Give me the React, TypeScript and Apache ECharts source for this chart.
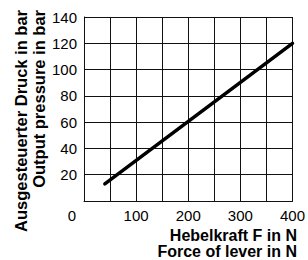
import React, { useEffect, useRef } from "react";
import * as echarts from "echarts";

const forceN = [40, 400];
const pressureBar = [13, 120];
const xTicks = [0, 100, 200, 300, 400];
const yTitle = ["Ausgesteuerter Druck in bar", "Output pressure in bar"];
const xTitle = ["Hebelkraft F in N", "Force of lever in N"];

export default function App() {
  const ref = useRef<HTMLDivElement>(null);
  useEffect(() => {
    const chart = echarts.init(ref.current!, null, { renderer: "svg" });
    const font = "'Liberation Sans', Arial, sans-serif";
    chart.setOption({
      animation: false,
      grid: { left: 84, top: 17, right: 13, bottom: 59 },
      xAxis: {
        type: "value",
        min: 0,
        max: 400,
        interval: 50,
        axisLine: { show: true, lineStyle: { color: "#111", width: 1 } },
        axisTick: { show: false },
        splitLine: { show: true, lineStyle: { color: "#111", width: 1 } },
        axisLabel: {
          color: "#000",
          fontFamily: font,
          fontSize: 15,
          margin: 7,
          formatter: (v: number) =>
            xTicks.includes(v) ? (v === 0 ? "{z|0}" : String(v)) : "",
          rich: { z: { fontSize: 15, fontFamily: font, color: "#000", padding: [0, 24, 0, 0] } },
        },
      },
      yAxis: {
        type: "value",
        min: 0,
        max: 140,
        interval: 20,
        axisLine: { show: true, lineStyle: { color: "#111", width: 1 } },
        axisTick: { show: false },
        splitLine: { show: true, lineStyle: { color: "#111", width: 1 } },
        axisLabel: {
          color: "#000",
          fontFamily: font,
          fontSize: 15,
          margin: 7,
          formatter: (v: number) => (v === 0 ? "" : String(v)),
        },
      },
      series: [
        {
          type: "line",
          data: forceN.map((x, i) => [x, pressureBar[i]]),
          symbol: "none",
          lineStyle: { color: "#000", width: 3.5, cap: "round" },
        },
      ],
      graphic: [
        {
          type: "text",
          x: 297,
          y: 227,
          style: {
            text: xTitle.join("\n"),
            fontFamily: font,
            fontWeight: "bold",
            fontSize: 16,
            lineHeight: 16,
            align: "right",
            verticalAlign: "top",
            fill: "#000",
          },
        },
        {
          type: "text",
          x: 12,
          y: 10,
          rotation: Math.PI / 2,
          style: {
            text: yTitle.join("\n"),
            fontFamily: font,
            fontWeight: "bold",
            fontSize: 16.5,
            lineHeight: 18,
            align: "right",
            verticalAlign: "top",
            fill: "#000",
          },
        },
      ],
    });
    return () => chart.dispose();
  }, []);
  return <div ref={ref} style={{ width: 308, height: 260, position: "absolute", left: 0, top: 0 }} />;
}
